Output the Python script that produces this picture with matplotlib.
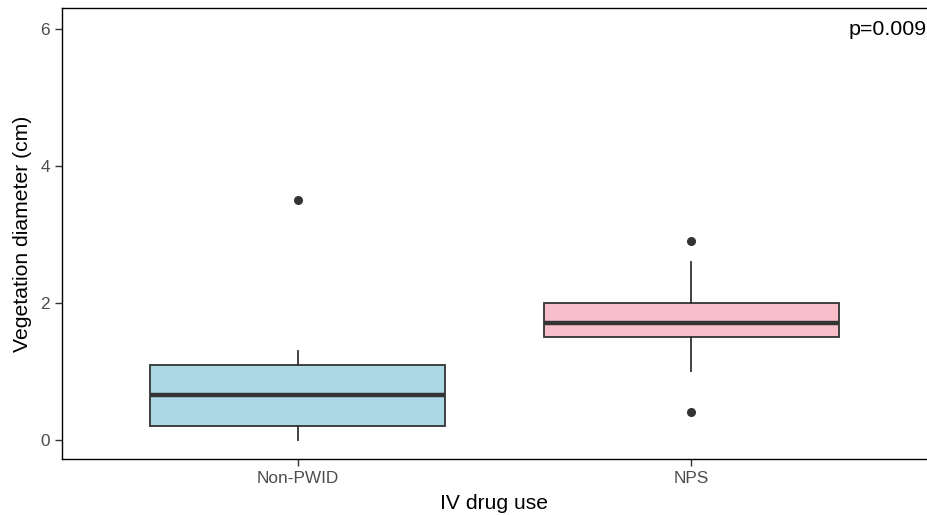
import matplotlib
matplotlib.use("Agg")
from matplotlib import pyplot as plt

plt.rcParams['font.family'] = ['Liberation Sans', 'DejaVu Sans']

# 箱线图数据
groups = ["Non-PWID", "NPS"]
whislo = [0.0, 1.0]
q1 = [0.2, 1.5]
med = [0.65, 1.7]
q3 = [1.1, 2.0]
whishi = [1.3, 2.6]
fliers = [[3.5], [2.9, 0.4]]
colors = ["#ADD8E6", "#F8BFCA"]
p_label = "p=0.009"

stats = []
for i in range(len(groups)):
    stats.append(dict(label=groups[i], whislo=whislo[i], q1=q1[i], med=med[i],
                      q3=q3[i], whishi=whishi[i], fliers=fliers[i]))

fig = plt.figure(figsize=(9.27, 5.15), dpi=100)
ax = fig.add_axes([62 / 927, 56 / 515, 1 - 62 / 927, 451 / 515])

edge = "#333333"
bp = ax.bxp(stats, positions=[1, 2], widths=0.75, patch_artist=True,
            showcaps=False,
            boxprops=dict(edgecolor=edge, linewidth=1.3),
            whiskerprops=dict(color=edge, linewidth=1.3),
            medianprops=dict(color=edge, linewidth=3.2),
            flierprops=dict(marker='o', markerfacecolor=edge, markeredgecolor=edge,
                            markersize=5.5))
for patch, c in zip(bp['boxes'], colors):
    patch.set_facecolor(c)

ax.text(2.40, 6.0, p_label, ha='left', va='center', fontsize=15.4, color='black')

ax.set_xlim(0.4, 2.6)
ax.set_ylim(-0.28, 6.31)
ax.set_yticks([0, 2, 4, 6])
ax.set_xticks([1, 2])
ax.set_xticklabels(groups)
ax.tick_params(colors="#333333", labelcolor="#4D4D4D", labelsize=12.4, length=5, width=1)
ax.spines['right'].set_visible(False)
for s in ['left', 'bottom', 'top']:
    ax.spines[s].set_linewidth(1.0)
    ax.spines[s].set_color('black')

ax.set_xlabel("IV drug use", fontsize=15.2, labelpad=6)
ax.set_ylabel("Vegetation diameter (cm)", fontsize=15.2, labelpad=6)

fig.savefig("out.png", dpi=100)
